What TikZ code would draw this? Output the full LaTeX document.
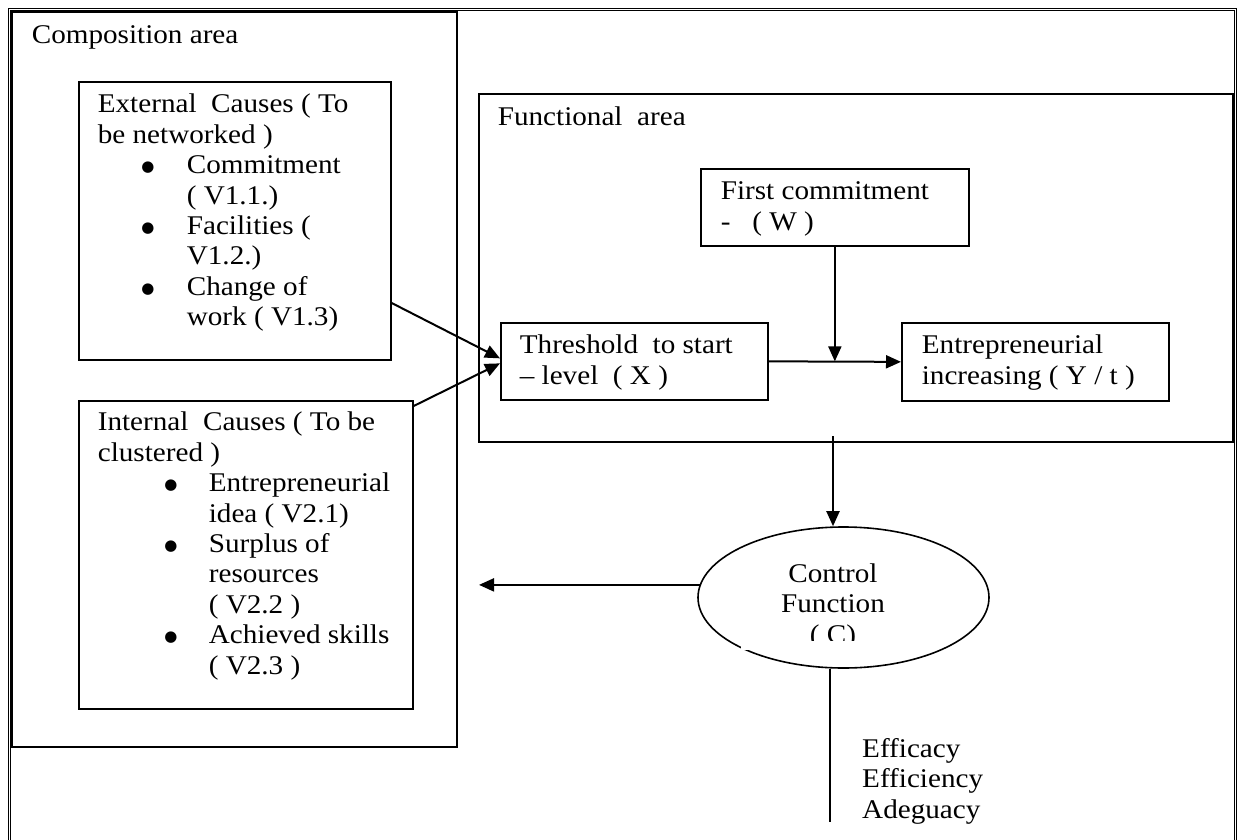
\documentclass[tikz,border=0pt]{standalone}
\usepackage{fontspec}
\setmainfont{Liberation Serif}[FakeStretch=1.08]
\newfontfamily\symf{DejaVu Sans}
\usetikzlibrary{shapes.geometric,arrows.meta,calc}

% box content: width, height, first-line strut, content
\newcommand{\bxc}[4]{\begin{minipage}[t][#2][t]{#1}\fontsize{27pt}{30.4pt}\selectfont\lineskiplimit=-20pt\raggedright\rule{0pt}{#3}#4\end{minipage}}
% free text: width, strut, content
\newcommand{\txc}[3]{\begin{minipage}[t]{#1}\fontsize{27pt}{30.4pt}\selectfont\lineskiplimit=-20pt\raggedright\rule{0pt}{#2}#3\end{minipage}}
% bullet line: bullet centre offset, gap to text, text
\newcommand{\bul}[3]{\hspace*{#1}\makebox[0pt][c]{\raisebox{2pt}{\symf\fontsize{15pt}{15pt}\selectfont ●}}\hspace*{#2}#3}

\tikzset{
  boxn/.style={draw, line width=1.7pt, inner sep=0pt, anchor=north west},
  arr/.style={line width=2pt, -{Triangle[length=15pt,width=13pt]}},
  ln/.style={line width=2pt},
  frame/.style={line width=1pt, double, double distance=1pt},
}

\begin{document}
\begin{tikzpicture}[x=1pt, y=-1pt]
\useasboundingbox (0,0) rectangle (1240,840);

% outer frame (open at the bottom)
\draw[frame] (9.5,840) -- (9.5,9.5) -- (1235.5,9.5) -- (1235.5,840);

% areas
\node[boxn] (comp) at (11,11) {\bxc{445pt}{735pt}{32pt}{\hspace*{20pt}Composition area}};
\node[boxn] (func) at (478,93) {\bxc{754pt}{348pt}{32pt}{\hspace*{19pt}Functional\ \ area}};

% cause boxes
\node[boxn] (ext) at (78,81) {\bxc{312pt}{278pt}{31pt}{%
\hspace*{19pt}External\ \ Causes ( To\\
\hspace*{19pt}be networked )\\
\bul{69pt}{39pt}{Commitment}\\
\hspace*{108pt}( V1.1.)\\
\bul{69pt}{39pt}{Facilities (}\\
\hspace*{108pt}V1.2.)\\
\bul{69pt}{39pt}{Change of}\\
\hspace*{108pt}work ( V1.3)}};

\node[boxn] (int) at (78,400) {\bxc{334pt}{308pt}{30pt}{%
\hspace*{19pt}Internal\ \ Causes ( To be\\
\hspace*{19pt}clustered )\\
\bul{92pt}{38pt}{Entrepreneurial}\\
\hspace*{130pt}idea ( V2.1)\\
\bul{92pt}{38pt}{Surplus of}\\
\hspace*{130pt}resources\\
\hspace*{130pt}( V2.2 )\\
\bul{92pt}{38pt}{Achieved skills}\\
\hspace*{130pt}( V2.3 )}};

% functional boxes
\node[boxn] (fc) at (700,168) {\bxc{268pt}{77pt}{31pt}{%
\hspace*{20pt}First commitment\\
\hspace*{20pt}-\ \ \ ( W )}};
\node[boxn] (thr) at (500,322) {\bxc{267pt}{77pt}{31pt}{%
\hspace*{19pt}Threshold\ \ to start\\
\hspace*{19pt}-- level\ \ ( X )}};
\node[boxn] (ent) at (901,322) {\bxc{267pt}{78pt}{31pt}{%
\hspace*{20pt}Entrepreneurial\\
\hspace*{20pt}increasing ( Y / t )}};

% control function
\node[ellipse, draw, line width=1.6pt, minimum width=291pt, minimum height=141pt, inner sep=0pt] (cf) at (843.5,597.5) {};
\node[inner sep=0pt, anchor=north] (cft) at (833,551) {\begin{minipage}[t]{200pt}\centering\fontsize{27pt}{30.4pt}\selectfont\lineskiplimit=-20pt\rule{0pt}{31pt}Control\\Function\\( C)\end{minipage}};
\fill[white] (741,641) rectangle (930,650);

% outputs
\node[inner sep=0pt, anchor=north west] (eff) at (862,726) {\txc{200pt}{31pt}{Efficacy\\Efficiency\\Adeguacy}};

% connectors
\coordinate (e1) at ($(ext.north east)+(0,222)$);
\draw[arr] (e1) -- ($(thr.west)+(0,-3)$);
\draw[arr] ($(int.north east)+(0,6)$) -- ($(thr.west)+(0,2)$);
\draw[arr] (thr.east) -- (ent.west);
\draw[arr] (fc.south) -- (fc.south |- thr.east);
\coordinate (d1) at (833,436);
\draw[arr] (d1) -- (d1 |- cf.north);
\coordinate (la) at (479,585);
\draw[arr] (cf.175) -- (cf.175 -| la);
\coordinate (b1) at (830,822);
\draw[ln] (b1 |- cf.south) -- (b1);
\end{tikzpicture}
\end{document}
